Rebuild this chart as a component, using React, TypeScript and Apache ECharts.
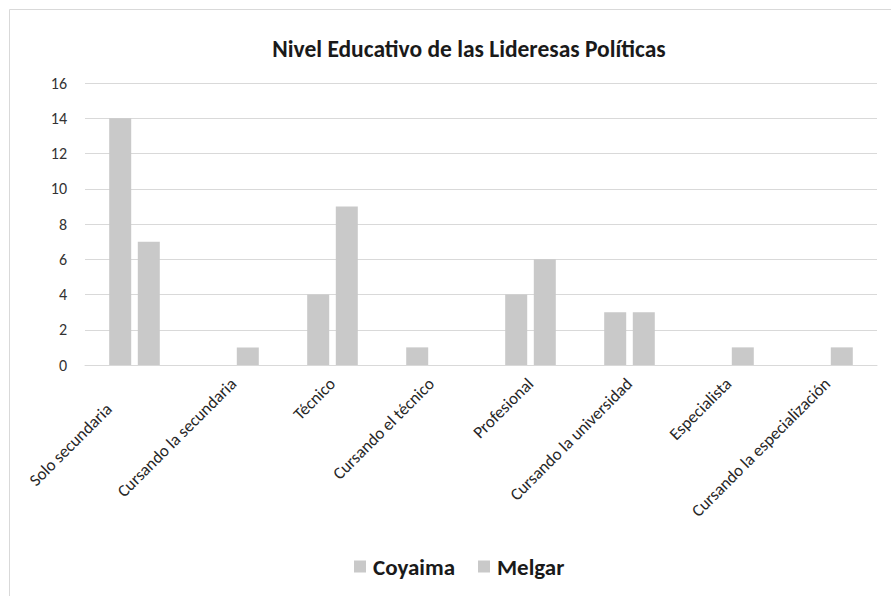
import React, { useEffect, useRef } from "react";
import * as echarts from "echarts";

const categories = [
  "Solo secundaria",
  "Cursando la secundaria",
  "Técnico",
  "Cursando el técnico",
  "Profesional",
  "Cursando la universidad",
  "Especialista",
  "Cursando la especialización",
];
const coyaima = [14, 0, 4, 1, 4, 3, 0, 0];
const melgar = [7, 1, 9, 0, 6, 3, 1, 1];
const seriesNames = ["Coyaima", "Melgar"];
const yTicks = { min: 0, max: 16, interval: 2 };

const FONT = "Carlito, Calibri, Lato, 'Open Sans', sans-serif";
const BAR = "#c9c9c9";
const LABEL_SIZE = 17;

export default function App() {
  const ref = useRef<HTMLDivElement>(null);
  useEffect(() => {
    if (!ref.current) return;
    const chart = echarts.init(ref.current, null, { renderer: "svg" });
    chart.setOption({
      animation: false,
      backgroundColor: "#ffffff",
      title: {
        text: "Nivel Educativo de las Lideresas Políticas",
        left: 469,
        top: 37,
        padding: 0,
        textAlign: "center",
        textStyle: { fontFamily: FONT, fontSize: 23.5, fontWeight: "bold", color: "#1a1a1a" },
      },
      legend: {
        data: seriesNames,
        left: 354,
        top: 555,
        padding: 0,
        itemWidth: 12,
        itemHeight: 12,
        itemGap: 23,
        icon: "rect",
        textStyle: {
          fontFamily: FONT,
          fontSize: 23,
          fontWeight: "bold",
          color: "#1a1a1a",
          padding: [0, 0, 0, 2],
        },
      },
      grid: { left: 85, right: 14, top: 83, bottom: 231, containLabel: false },
      xAxis: {
        type: "category",
        data: categories,
        axisLine: { lineStyle: { color: "#d9d9d9" } },
        axisTick: { show: false },
        axisLabel: {
          interval: 0,
          rotate: 45,
          margin: 16,
          fontFamily: FONT,
          fontSize: LABEL_SIZE,
          color: "#262626",
          formatter: (v: string, i: number) => (i === 0 ? `{first|${v}}` : v),
          rich: {
            first: {
              fontFamily: FONT,
              fontSize: LABEL_SIZE,
              color: "#262626",
              padding: [0, 36, 0, 0],
            },
          },
        },
      },
      yAxis: {
        type: "value",
        min: yTicks.min,
        max: yTicks.max,
        interval: yTicks.interval,
        axisLine: { show: false },
        axisTick: { show: false },
        splitLine: { lineStyle: { color: "#d9d9d9" } },
        axisLabel: { fontFamily: FONT, fontSize: 16, color: "#333333", margin: 18 },
      },
      graphic: [
        {
          type: "rect",
          shape: { x: 9.5, y: 9.5, width: 1000, height: 1000 },
          style: { fill: "none", stroke: "#d9d9d9", lineWidth: 1 },
          silent: true,
        },
      ],
      series: [
        {
          name: seriesNames[0],
          type: "bar",
          data: coyaima,
          barWidth: 22,
          barGap: "30%",
          itemStyle: { color: BAR },
        },
        {
          name: seriesNames[1],
          type: "bar",
          data: melgar,
          barWidth: 22,
          barGap: "30%",
          itemStyle: { color: BAR },
        },
      ],
    });
    return () => chart.dispose();
  }, []);
  return (
    <div
      ref={ref}
      style={{ position: "fixed", left: 0, top: 0, width: 891, height: 596, background: "#fff" }}
    />
  );
}
